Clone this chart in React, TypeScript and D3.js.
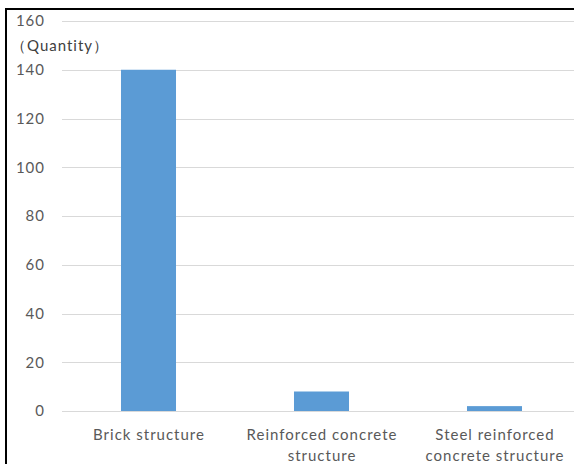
import { useEffect, useRef } from "react";
import * as d3 from "d3";

const categories = [
    ["Brick structure"],
    ["Reinforced concrete", "structure"],
    ["Steel reinforced", "concrete structure"],
];
const quantities = [140, 8, 2];
const yTicks = [0, 20, 40, 60, 80, 100, 120, 140, 160];
const yAxisTitle = "（Quantity）";

const WIDTH = 574;
const HEIGHT = 464;

const App: React.FC = () => {
    const svgRef = useRef<SVGSVGElement>(null);

    useEffect(() => {
        const svg = d3.select(svgRef.current);
        svg.selectAll("*").remove();

        const font = "Lato, 'Open Sans', sans-serif";
        const fontSize = 15;
        const spacing = 1;
        const left = 62;
        const right = 581;

        const x = d3
            .scaleBand<number>()
            .domain(d3.range(categories.length))
            .range([left, right])
            .paddingInner(0.682)
            .paddingOuter(0.341);

        const y = d3.scaleLinear().domain([0, 160]).range([411, 21]);

        svg.append("rect").attr("width", WIDTH).attr("height", HEIGHT).attr("fill", "white");

        // gridlines
        svg.append("g")
            .selectAll("line")
            .data(yTicks)
            .enter()
            .append("line")
            .attr("x1", left)
            .attr("x2", right)
            .attr("y1", (d) => Math.round(y(d)) + 0.5)
            .attr("y2", (d) => Math.round(y(d)) + 0.5)
            .attr("stroke", "#d9d9d9")
            .attr("stroke-width", 1);

        // y tick labels
        svg.append("g")
            .selectAll("text")
            .data(yTicks)
            .enter()
            .append("text")
            .attr("x", 45)
            .attr("y", (d) => y(d))
            .attr("dy", "0.35em")
            .attr("text-anchor", "end")
            .attr("font-family", font)
            .attr("font-size", fontSize)
            .attr("letter-spacing", spacing)
            .attr("fill", "#595959")
            .text((d) => d);

        svg.append("text")
            .attr("x", 11)
            .attr("y", 46)
            .attr("dy", "0.35em")
            .attr("font-family", font)
            .attr("font-size", fontSize)
            .attr("letter-spacing", spacing)
            .attr("fill", "#404040")
            .text(yAxisTitle);

        // bars
        svg.append("g")
            .selectAll("rect")
            .data(quantities)
            .enter()
            .append("rect")
            .attr("x", (_, i) => x(i)!)
            .attr("width", x.bandwidth())
            .attr("y", (d) => y(d))
            .attr("height", (d) => y(0) - y(d))
            .attr("fill", "#5b9bd5");

        // category labels
        const labels = svg
            .append("g")
            .selectAll("text")
            .data(categories)
            .enter()
            .append("text")
            .attr("x", (_, i) => x(i)! + x.bandwidth() / 2 + spacing / 2)
            .attr("y", 435)
            .attr("text-anchor", "middle")
            .attr("font-family", font)
            .attr("font-size", fontSize)
            .attr("letter-spacing", spacing)
            .attr("fill", "#595959");

        labels
            .selectAll("tspan")
            .data((d) => d)
            .enter()
            .append("tspan")
            .attr("x", function () {
                return (this.parentNode as SVGTextElement).getAttribute("x");
            })
            .attr("dy", (_, j) => (j === 0 ? "0.35em" : "21"))
            .text((d) => d);

        // frame (top and left edges only are visible)
        svg.append("line")
            .attr("x1", 5)
            .attr("x2", WIDTH)
            .attr("y1", 9)
            .attr("y2", 9)
            .attr("stroke", "black")
            .attr("stroke-width", 2);
        svg.append("line")
            .attr("x1", 6)
            .attr("x2", 6)
            .attr("y1", 8)
            .attr("y2", HEIGHT)
            .attr("stroke", "black")
            .attr("stroke-width", 2);
    }, []);

    return (
        <div style={{ position: "fixed", top: 0, left: 0 }}>
            <svg ref={svgRef} width={WIDTH} height={HEIGHT} style={{ display: "block" }}></svg>
        </div>
    );
};

export default App;
